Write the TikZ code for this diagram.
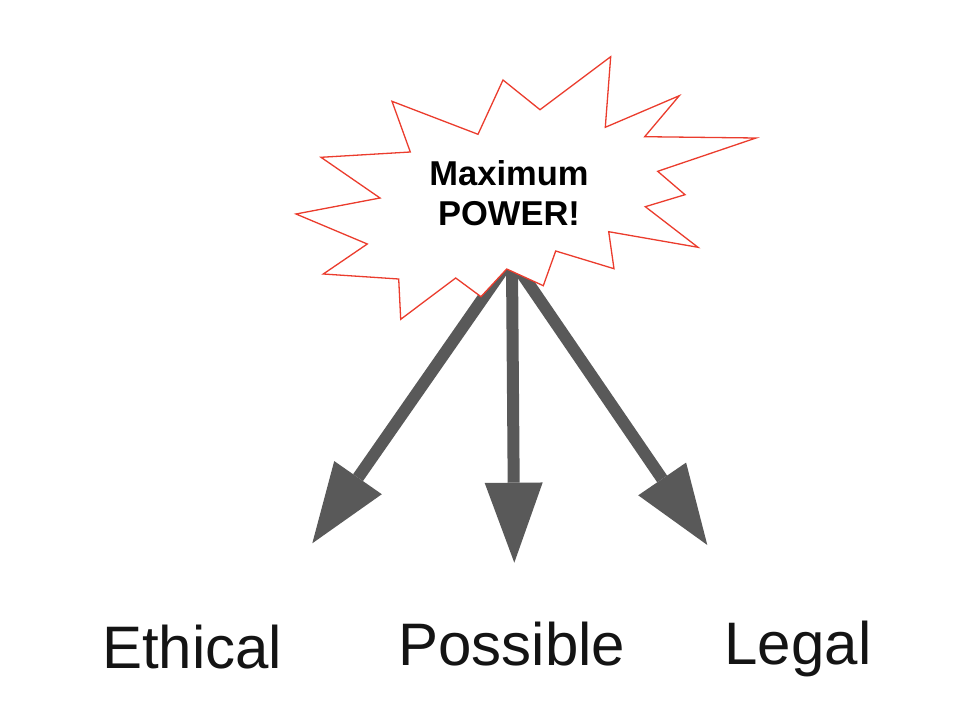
\documentclass[tikz,border=0pt]{standalone}
\usepackage{fontspec}
\setmainfont{Liberation Sans}
\usetikzlibrary{arrows.meta}
\definecolor{burstred}{RGB}{235,60,45}
\definecolor{arrowgray}{RGB}{89,89,89}
\definecolor{textdark}{RGB}{20,20,20}
\begin{document}
\begin{tikzpicture}[x=1pt,y=-1pt,
  burst/.style={draw=burstred,fill=white,line width=1.3pt,line join=miter},
  bigarrow/.style={draw=arrowgray,line width=12pt,
    -{Triangle[length=80pt,width=58pt,line width=0pt]}},
  label/.style={font=\fontsize{60}{66}\selectfont,text=textdark,inner sep=0pt,anchor=base},
  title/.style={font=\bfseries\fontsize{34.5}{40}\selectfont,align=center,inner sep=0pt}
]
\useasboundingbox (0,0) rectangle (978,714);
% arrow start points (hidden beneath the burst) and free tips
\coordinate (sL) at (504,268);
\coordinate (sM) at (512,265);
\coordinate (sR) at (518,268);
\coordinate (tL) at (312.3,543.3);
\coordinate (tM) at (514.3,562.7);
\coordinate (tR) at (707.3,545);
\draw[bigarrow] (sL) -- (tL);
\draw[bigarrow] (sM) -- (tM);
\draw[bigarrow] (sR) -- (tR);
% starburst
\draw[burst] (610.7,56.7) -- (605.3,127.3) -- (679.3,95.7) -- (644.7,136.7)
  -- (756,138) -- (657.7,171.3) -- (685,194.7) -- (645.3,206.7)
  -- (698,247.3) -- (608.7,231.7) -- (614,268.7) -- (555.7,251)
  -- (543.3,285.7) -- (506.7,269) -- (481,296.7) -- (455.7,278)
  -- (400.7,319.3) -- (398.7,279) -- (323.3,274) -- (367.3,244)
  -- (296,214) -- (380,198) -- (321,157.3) -- (410.3,152)
  -- (392,101.3) -- (478,134.3) -- (503,80) -- (540,109.7) -- cycle;
\node[title] (burst) at (509,193.6) {Maximum\\POWER!};
% labels
\node[label] (ethical) at (192.3,668) {Ethical};
\node[label] (possible) at (511.7,665) {Possible};
\node[label] (legal) at (798,664) {Legal};
\end{tikzpicture}
\end{document}
